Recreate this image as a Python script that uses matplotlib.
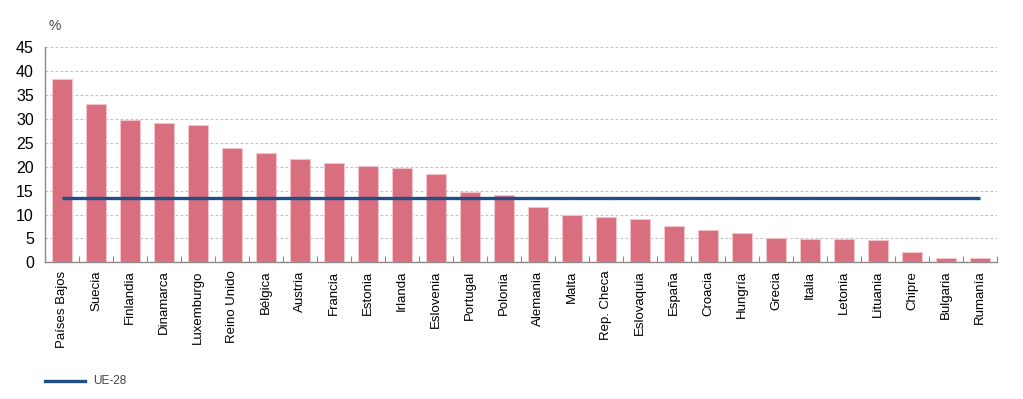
import matplotlib
matplotlib.use('Agg')
import matplotlib.pyplot as plt
import numpy as np
from matplotlib.lines import Line2D

# Data
countries = ['Países Bajos', 'Suecia', 'Finlandia', 'Dinamarca', 'Luxemburgo',
             'Reino Unido', 'Bélgica', 'Austria', 'Francia', 'Estonia',
             'Irlanda', 'Eslovenia', 'Portugal', 'Polonia', 'Alemania',
             'Malta', 'Rep. Checa', 'Eslovaquia', 'España', 'Croacia',
             'Hungría', 'Grecia', 'Italia', 'Letonia', 'Lituania',
             'Chipre', 'Bulgaria', 'Rumanía']
values = [38.4, 33.1, 29.8, 29.1, 28.7, 23.9, 22.8, 21.7, 20.8, 20.2,
          19.7, 18.4, 14.7, 14.0, 11.6, 9.8, 9.4, 9.1, 7.6, 6.8,
          6.1, 5.1, 4.9, 4.9, 4.7, 2.2, 0.9, 0.8]
ue28 = 13.5

bar_color = '#d86e7e'
line_color = '#1f4e88'
grid_color = '#c2c2c2'
axis_color = '#8a8a8a'

plt.rcParams['font.family'] = ['Liberation Sans', 'DejaVu Sans']

fig = plt.figure(figsize=(10.23, 3.99), dpi=100)
ax = fig.add_axes([0.044, 0.3426, 0.9306, 0.5389])

x = np.arange(len(countries))
ax.bar(x, values, width=0.57, color=bar_color, edgecolor='#f0c4ca',
       linewidth=0.8, zorder=3)
ax.plot([x[0], x[-1]], [ue28, ue28], color=line_color, linewidth=2.4,
        zorder=4, solid_capstyle='butt')

ax.set_xlim(-0.5, len(countries) - 0.5)
ax.set_ylim(0, 45)
ax.set_yticks(np.arange(0, 46, 5))
ax.yaxis.grid(True, linestyle=(0, (2.5, 2)), color=grid_color, linewidth=0.8,
              zorder=0)
ax.set_axisbelow(True)

# category labels, ticks between bars
ax.set_xticks(x)
ax.set_xticklabels(countries, rotation=90, fontsize=9.5)
ax.tick_params(axis='x', length=0, pad=6)
ax.set_xticks(np.arange(-0.5, len(countries), 1), minor=True)
ax.tick_params(axis='x', which='minor', direction='in', length=4,
               color=axis_color, width=0.8)
ax.tick_params(axis='y', length=0, labelsize=11.5, pad=8)

for side in ['top', 'right']:
    ax.spines[side].set_visible(False)
ax.spines['left'].set_color(axis_color)
ax.spines['bottom'].set_color(axis_color)
ax.spines['left'].set_linewidth(1.0)
ax.spines['bottom'].set_linewidth(1.0)

fig.text(0.047, 0.935, '%', fontsize=10, color='#444444', ha='left', va='center')

# legend
fig.add_artist(Line2D([45 / 1023, 85 / 1023], [1 - 381 / 399, 1 - 381 / 399],
                      color=line_color, linewidth=2.4))
fig.text(93 / 1023, 1 - 381 / 399, 'UE-28', fontsize=8.5, color='#444444',
         ha='left', va='center', fontstretch='condensed')

fig.savefig('out.png', dpi=100)
